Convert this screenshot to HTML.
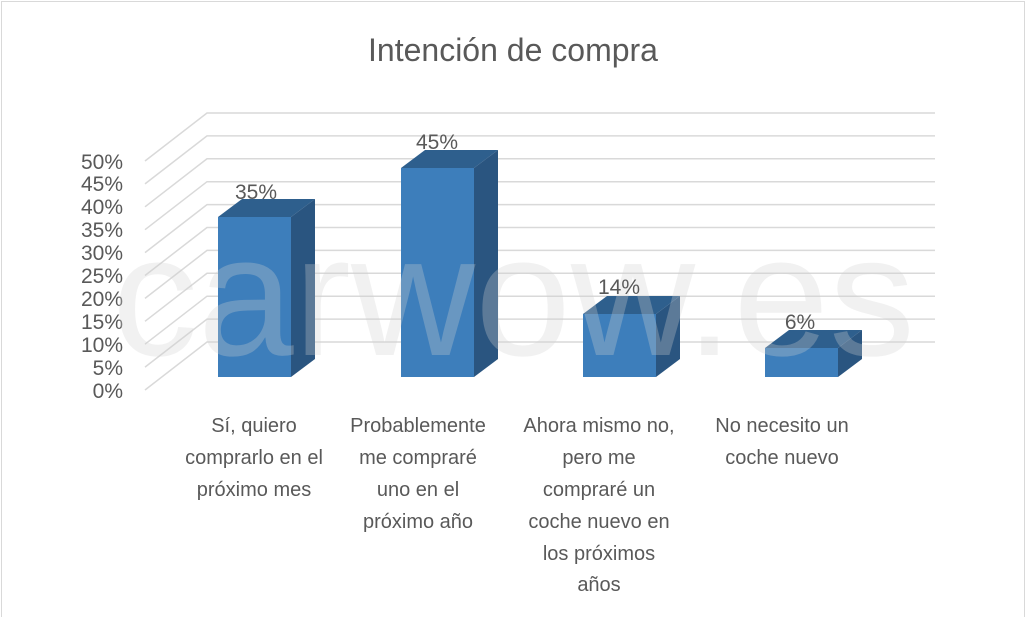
<!DOCTYPE html>
<html><head><meta charset="utf-8"><style>
html,body{margin:0;padding:0;background:#fff;}
body{width:1027px;height:617px;overflow:hidden;position:relative;font-family:"Liberation Sans","DejaVu Sans",sans-serif;}
</style></head><body>
<svg width="1027" height="617" viewBox="0 0 1027 617" xmlns="http://www.w3.org/2000/svg" style="position:absolute;left:0;top:0">
<rect x="1.5" y="1.5" width="1023" height="640" fill="#fff" stroke="#d9d9d9"/>
<text x="513" y="61" text-anchor="middle" font-family="Liberation Sans, sans-serif" font-size="32" fill="#595959">Intención de compra</text>
<g stroke="#d9d9d9" stroke-width="1.5" fill="none">
<path d="M145 390 L207 342 H935"/>
<path d="M145 367.1 L207 319.1 H935"/>
<path d="M145 344.2 L207 296.2 H935"/>
<path d="M145 321.3 L207 273.3 H935"/>
<path d="M145 298.4 L207 250.4 H935"/>
<path d="M145 275.5 L207 227.5 H935"/>
<path d="M145 252.6 L207 204.6 H935"/>
<path d="M145 229.7 L207 181.7 H935"/>
<path d="M145 206.8 L207 158.8 H935"/>
<path d="M145 183.9 L207 135.9 H935"/>
<path d="M145 161 L207 113 H935"/>
</g>
<g font-family="Liberation Sans, sans-serif" font-size="21" fill="#595959" text-anchor="end">
<text x="123" y="398">0%</text><text x="123" y="375">5%</text><text x="123" y="352">10%</text><text x="123" y="329">15%</text><text x="123" y="306">20%</text><text x="123" y="283">25%</text><text x="123" y="260">30%</text><text x="123" y="237">35%</text><text x="123" y="214">40%</text><text x="123" y="191">45%</text><text x="123" y="169">50%</text>
</g>
<g>
<polygon points="218,217 242,199 315,199 291,217" fill="#2e5f8d"/><polygon points="291,217 315,199 315,359 291,377" fill="#2a5580"/><rect x="218" y="217" width="73" height="160" fill="#3d7ebb"/>
<polygon points="401,168 425,150 498,150 474,168" fill="#2e5f8d"/><polygon points="474,168 498,150 498,359 474,377" fill="#2a5580"/><rect x="401" y="168" width="73" height="209" fill="#3d7ebb"/>
<polygon points="583,314 607,296 680,296 656,314" fill="#2e5f8d"/><polygon points="656,314 680,296 680,359 656,377" fill="#2a5580"/><rect x="583" y="314" width="73" height="63" fill="#3d7ebb"/>
<polygon points="765,348 789,330 862,330 838,348" fill="#2e5f8d"/><polygon points="838,348 862,330 862,359 838,377" fill="#2a5580"/><rect x="765" y="348" width="73" height="29" fill="#3d7ebb"/>
</g>
<text x="112" y="355" font-family="Liberation Sans, sans-serif" font-size="172" fill="#cfcfcf" fill-opacity="0.3">carwow.es</text>
<g font-family="Liberation Sans, sans-serif" font-size="21" fill="#595959" text-anchor="middle">
<text x="256" y="199">35%</text><text x="437" y="149">45%</text><text x="619" y="294">14%</text><text x="800" y="329">6%</text>
</g>
<g font-family="Liberation Sans, sans-serif" font-size="20" fill="#595959" text-anchor="middle">
<text x="254" y="432">Sí, quiero</text><text x="254" y="464">comprarlo en el</text><text x="254" y="496">próximo mes</text>
<text x="418" y="432">Probablemente</text><text x="418" y="464">me compraré</text><text x="418" y="496">uno en el</text><text x="418" y="528">próximo año</text>
<text x="599" y="432">Ahora mismo no,</text><text x="599" y="464">pero me</text><text x="599" y="496">compraré un</text><text x="599" y="528">coche nuevo en</text><text x="599" y="560">los próximos</text><text x="599" y="591">años</text>
<text x="782" y="432">No necesito un</text><text x="782" y="464">coche nuevo</text>
</g>
</svg>
</body></html>
